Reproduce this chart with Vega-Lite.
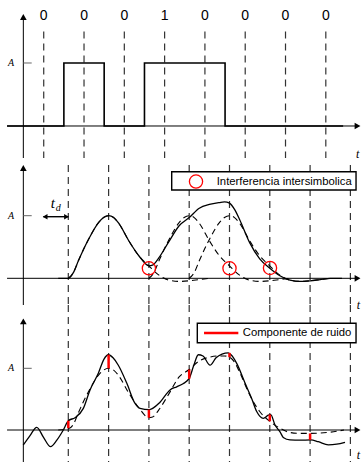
{
  "$schema": "https://vega.github.io/schema/vega-lite/v6.json",
  "padding": 0,
  "background": "white",
  "spacing": 0,
  "bounds": "flush",
  "config": {"view": {"stroke": null}},
  "resolve": {"scale": {"x": "independent", "y": "independent"}},
  "datasets": {
    "vlines": [
      {"panel": 1, "u": 0, "v": 1.5, "v2": -0.508}, {"panel": 1, "u": 1, "v": 1.5, "v2": -0.508},
      {"panel": 1, "u": 2, "v": 1.5, "v2": -0.508}, {"panel": 1, "u": 3, "v": 1.5, "v2": -0.508},
      {"panel": 1, "u": 4, "v": 1.5, "v2": -0.508}, {"panel": 1, "u": 5, "v": 1.5, "v2": -0.508},
      {"panel": 1, "u": 6, "v": 1.5, "v2": -0.508}, {"panel": 1, "u": 7, "v": 1.5, "v2": -0.508},
      {"panel": 2, "u": 0.61, "v": 1.81, "v2": -0.4265}, {"panel": 2, "u": 1.61, "v": 1.81, "v2": -0.4265},
      {"panel": 2, "u": 2.61, "v": 1.81, "v2": -0.4265}, {"panel": 2, "u": 3.61, "v": 1.81, "v2": -0.4265},
      {"panel": 2, "u": 4.61, "v": 1.81, "v2": -0.4265}, {"panel": 2, "u": 5.61, "v": 1.81, "v2": -0.4265},
      {"panel": 2, "u": 6.61, "v": 1.81, "v2": -0.4265}, {"panel": 2, "u": 7.61, "v": 1.81, "v2": -0.4265},
      {"panel": 3, "u": 0.61, "v": 2.026, "v2": -0.5186}, {"panel": 3, "u": 1.61, "v": 2.026, "v2": -0.5186},
      {"panel": 3, "u": 2.61, "v": 2.026, "v2": -0.5186}, {"panel": 3, "u": 3.61, "v": 2.026, "v2": -0.5186},
      {"panel": 3, "u": 4.61, "v": 2.026, "v2": -0.5186}, {"panel": 3, "u": 5.61, "v": 2.026, "v2": -0.5186},
      {"panel": 3, "u": 6.61, "v": 2.026, "v2": -0.5186}, {"panel": 3, "u": 7.61, "v": 2.026, "v2": -0.5186}
    ],
    "xaxis": [{"u": -0.91, "u2": 7.787, "v": 0}],
    "xarrow": [{"u": 7.787, "v": 0}],
    "yaxis": [
      {"panel": 1, "u": -0.506, "v": -0.508, "v2": 1.73},
      {"panel": 2, "u": -0.506, "v": -0.4265, "v2": 1.762},
      {"panel": 3, "u": -0.506, "v": -0.5186, "v2": 1.762}
    ],
    "yarrow": [
      {"panel": 1, "u": -0.506, "v": 1.73},
      {"panel": 2, "u": -0.506, "v": 1.762},
      {"panel": 3, "u": -0.506, "v": 1.762}
    ],
    "ytick": [{"u": -0.506, "u2": -0.298, "v": 1}],
    "alabel": [{"u": -0.811, "v": 1, "label": "A"}],
    "tlabel": [
      {"panel": 1, "u": 7.79, "v": -0.44, "label": "t"},
      {"panel": 2, "u": 7.81, "v": -0.42, "label": "t"},
      {"panel": 3, "u": 7.81, "v": -0.4, "label": "t"}
    ],
    "bits": [
      {"u": 0, "v": 1.74, "label": "0"}, {"u": 1, "v": 1.74, "label": "0"},
      {"u": 2, "v": 1.74, "label": "0"}, {"u": 3, "v": 1.74, "label": "1"},
      {"u": 4, "v": 1.74, "label": "0"}, {"u": 5, "v": 1.74, "label": "0"},
      {"u": 6, "v": 1.74, "label": "0"}, {"u": 7, "v": 1.74, "label": "0"}
    ],
    "signal": [
      {"u": -0.91, "v": 0}, {"u": 0.5, "v": 1}, {"u": 1.5, "v": 0},
      {"u": 2.5, "v": 1}, {"u": 4.5, "v": 0}, {"u": 7.43, "v": 0}
    ],
    "pulses": [
      {"pulse": "a", "u": 0.61, "v": 0}, {"pulse": "a", "u": 0.735, "v": 0.09}, {"pulse": "a", "u": 0.86, "v": 0.28},
      {"pulse": "a", "u": 1.11, "v": 0.62}, {"pulse": "a", "u": 1.36, "v": 0.89}, {"pulse": "a", "u": 1.485, "v": 0.97},
      {"pulse": "a", "u": 1.61, "v": 1}, {"pulse": "a", "u": 1.735, "v": 0.97}, {"pulse": "a", "u": 1.86, "v": 0.88},
      {"pulse": "a", "u": 2.11, "v": 0.6}, {"pulse": "a", "u": 2.36, "v": 0.36}, {"pulse": "a", "u": 2.61, "v": 0.2},
      {"pulse": "a", "u": 2.86, "v": 0.05}, {"pulse": "a", "u": 3.11, "v": -0.03}, {"pulse": "a", "u": 3.36, "v": -0.05},
      {"pulse": "a", "u": 3.61, "v": -0.04}, {"pulse": "a", "u": 3.86, "v": -0.02}, {"pulse": "a", "u": 4.11, "v": 0},
      {"pulse": "b", "u": 2.61, "v": 0}, {"pulse": "b", "u": 2.735, "v": 0.09}, {"pulse": "b", "u": 2.86, "v": 0.28},
      {"pulse": "b", "u": 3.11, "v": 0.62}, {"pulse": "b", "u": 3.36, "v": 0.89}, {"pulse": "b", "u": 3.485, "v": 0.97},
      {"pulse": "b", "u": 3.61, "v": 1}, {"pulse": "b", "u": 3.735, "v": 0.97}, {"pulse": "b", "u": 3.86, "v": 0.88},
      {"pulse": "b", "u": 4.11, "v": 0.6}, {"pulse": "b", "u": 4.36, "v": 0.36}, {"pulse": "b", "u": 4.61, "v": 0.2},
      {"pulse": "b", "u": 4.86, "v": 0.05}, {"pulse": "b", "u": 5.11, "v": -0.03}, {"pulse": "b", "u": 5.36, "v": -0.05},
      {"pulse": "b", "u": 5.61, "v": -0.04}, {"pulse": "b", "u": 5.86, "v": -0.02}, {"pulse": "b", "u": 6.11, "v": 0},
      {"pulse": "c", "u": 3.61, "v": 0}, {"pulse": "c", "u": 3.735, "v": 0.09}, {"pulse": "c", "u": 3.86, "v": 0.28},
      {"pulse": "c", "u": 4.11, "v": 0.62}, {"pulse": "c", "u": 4.36, "v": 0.89}, {"pulse": "c", "u": 4.485, "v": 0.97},
      {"pulse": "c", "u": 4.61, "v": 1}, {"pulse": "c", "u": 4.735, "v": 0.97}, {"pulse": "c", "u": 4.86, "v": 0.88},
      {"pulse": "c", "u": 5.11, "v": 0.6}, {"pulse": "c", "u": 5.36, "v": 0.36}, {"pulse": "c", "u": 5.61, "v": 0.2},
      {"pulse": "c", "u": 5.86, "v": 0.05}, {"pulse": "c", "u": 6.11, "v": -0.03}, {"pulse": "c", "u": 6.36, "v": -0.05},
      {"pulse": "c", "u": 6.61, "v": -0.04}, {"pulse": "c", "u": 6.86, "v": -0.02}, {"pulse": "c", "u": 7.11, "v": 0}
    ],
    "isi2": [
      {"u": 0.36, "v": 0}, {"u": 0.61, "v": 0}, {"u": 0.735, "v": 0.09}, {"u": 0.86, "v": 0.28},
      {"u": 1.11, "v": 0.62}, {"u": 1.36, "v": 0.89}, {"u": 1.485, "v": 0.97}, {"u": 1.61, "v": 1},
      {"u": 1.735, "v": 0.97}, {"u": 1.86, "v": 0.88}, {"u": 2.11, "v": 0.6}, {"u": 2.36, "v": 0.36},
      {"u": 2.61, "v": 0.2}, {"u": 2.7, "v": 0.21}, {"u": 2.86, "v": 0.33}, {"u": 3.11, "v": 0.59},
      {"u": 3.36, "v": 0.84}, {"u": 3.61, "v": 0.97}, {"u": 3.86, "v": 1.12}, {"u": 4.11, "v": 1.18},
      {"u": 4.36, "v": 1.21}, {"u": 4.485, "v": 1.22}, {"u": 4.61, "v": 1.2}, {"u": 4.735, "v": 1.1},
      {"u": 4.86, "v": 0.94}, {"u": 5.11, "v": 0.57}, {"u": 5.36, "v": 0.31}, {"u": 5.61, "v": 0.16},
      {"u": 5.86, "v": 0.04}, {"u": 6.11, "v": -0.03}, {"u": 6.36, "v": -0.05}, {"u": 6.61, "v": -0.04},
      {"u": 6.86, "v": -0.02}, {"u": 7.11, "v": 0}, {"u": 7.4, "v": 0}
    ],
    "circles": [{"u": 2.61, "v": 0.16}, {"u": 4.61, "v": 0.16}, {"u": 5.615, "v": 0.165}],
    "isi3": [
      {"u": 0.36, "v": 0}, {"u": 0.61, "v": 0.02}, {"u": 0.735, "v": 0.09}, {"u": 0.86, "v": 0.28},
      {"u": 1.11, "v": 0.62}, {"u": 1.36, "v": 0.89}, {"u": 1.485, "v": 0.97}, {"u": 1.61, "v": 1},
      {"u": 1.735, "v": 0.97}, {"u": 1.86, "v": 0.88}, {"u": 2.11, "v": 0.6}, {"u": 2.36, "v": 0.36},
      {"u": 2.61, "v": 0.2}, {"u": 2.7, "v": 0.21}, {"u": 2.86, "v": 0.33}, {"u": 3.11, "v": 0.59},
      {"u": 3.36, "v": 0.86}, {"u": 3.61, "v": 0.98}, {"u": 3.86, "v": 1.12}, {"u": 4.11, "v": 1.18},
      {"u": 4.36, "v": 1.2}, {"u": 4.485, "v": 1.2}, {"u": 4.61, "v": 1.18}, {"u": 4.735, "v": 1.1},
      {"u": 4.86, "v": 0.94}, {"u": 5.11, "v": 0.57}, {"u": 5.36, "v": 0.3}, {"u": 5.61, "v": 0.14},
      {"u": 5.86, "v": 0.03}, {"u": 6.11, "v": -0.04}, {"u": 6.36, "v": -0.055}, {"u": 6.61, "v": -0.055},
      {"u": 6.86, "v": -0.05}, {"u": 7.11, "v": -0.035}, {"u": 7.45, "v": 0}
    ],
    "noisy": [
      {"u": -0.506, "v": -0.243}, {"u": -0.34, "v": -0.09}, {"u": -0.174, "v": 0.044}, {"u": -0.005, "v": -0.12},
      {"u": 0.169, "v": -0.27}, {"u": 0.33, "v": -0.16}, {"u": 0.486, "v": 0}, {"u": 0.61, "v": 0.15},
      {"u": 0.777, "v": 0.2}, {"u": 0.983, "v": 0.35}, {"u": 1.149, "v": 0.65}, {"u": 1.355, "v": 0.92},
      {"u": 1.496, "v": 1.15}, {"u": 1.603, "v": 1.22}, {"u": 1.72, "v": 1.17}, {"u": 1.851, "v": 1.05},
      {"u": 2.06, "v": 0.76}, {"u": 2.266, "v": 0.43}, {"u": 2.39, "v": 0.35}, {"u": 2.62, "v": 0.33},
      {"u": 2.886, "v": 0.45}, {"u": 3.134, "v": 0.65}, {"u": 3.3, "v": 0.7}, {"u": 3.457, "v": 0.75},
      {"u": 3.613, "v": 0.84}, {"u": 3.72, "v": 1.04}, {"u": 3.836, "v": 1.22}, {"u": 3.953, "v": 1.2},
      {"u": 4.127, "v": 1.05}, {"u": 4.276, "v": 1.17}, {"u": 4.424, "v": 1.23}, {"u": 4.58, "v": 1.25},
      {"u": 4.648, "v": 1.22}, {"u": 4.789, "v": 1.08}, {"u": 4.995, "v": 0.76}, {"u": 5.16, "v": 0.51},
      {"u": 5.285, "v": 0.3}, {"u": 5.449, "v": 0.19}, {"u": 5.573, "v": 0.24}, {"u": 5.633, "v": 0.25},
      {"u": 5.74, "v": 0.08}, {"u": 5.864, "v": -0.03}, {"u": 5.945, "v": -0.12}, {"u": 6.112, "v": -0.16},
      {"u": 6.36, "v": -0.165}, {"u": 6.625, "v": -0.16}, {"u": 6.814, "v": -0.19}, {"u": 7.062, "v": -0.24},
      {"u": 7.27, "v": -0.23}, {"u": 7.476, "v": -0.2}
    ],
    "noise": [
      {"u": 0.61, "v": 0.03, "v2": 0.15}, {"u": 1.61, "v": 1.0, "v2": 1.22}, {"u": 2.61, "v": 0.2, "v2": 0.33},
      {"u": 3.61, "v": 0.98, "v2": 0.83}, {"u": 4.61, "v": 1.18, "v2": 1.25}, {"u": 5.61, "v": 0.14, "v2": 0.25},
      {"u": 6.61, "v": -0.055, "v2": -0.16}
    ],
    "legbox": [
      {"panel": 2, "u": 3.176, "u2": 7.75, "v": 1.703, "v2": 1.411},
      {"panel": 3, "u": 3.811, "u2": 7.75, "v": 1.729, "v2": 1.415}
    ],
    "legtext": [
      {"panel": 2, "u": 4.293, "v": 1.546, "label": "Interferencia intersimbolica"},
      {"panel": 3, "u": 4.938, "v": 1.572, "label": "Componente de ruido"}
    ],
    "legcircle": [{"u": 3.779, "v": 1.546}],
    "legline": [{"u": 3.978, "u2": 4.829, "v": 1.572}],
    "tdrule": [{"u": -0.01, "u2": 0.61, "v": 0.984}],
    "tdleft": [{"u": 0.035, "v": 0.984}],
    "tdright": [{"u": 0.565, "v": 0.984}],
    "tdt": [{"u": 0.226, "v": 1.2, "label": "t"}],
    "tdd": [{"u": 0.36, "v": 1.125, "label": "d"}]
  },
  "vconcat": [
    {
      "width": 362, "height": 158,
      "encoding": {
        "x": {"field": "u", "type": "quantitative", "scale": {"domain": [-1.085, 7.898], "nice": false, "zero": false}, "axis": null},
        "y": {"field": "v", "type": "quantitative", "scale": {"domain": [-0.508, 2.0], "nice": false, "zero": false}, "axis": null}
      },
      "layer": [
        {"data": {"name": "vlines"}, "transform": [{"filter": "datum.panel == 1"}],
         "mark": {"type": "rule", "color": "#333333", "strokeWidth": 1.2, "strokeDash": [7, 5]},
         "encoding": {"y2": {"field": "v2"}}},
        {"data": {"name": "xaxis"}, "mark": {"type": "rule", "color": "#000000", "strokeWidth": 1},
         "encoding": {"x2": {"field": "u2"}}},
        {"data": {"name": "yaxis"}, "transform": [{"filter": "datum.panel == 1"}],
         "mark": {"type": "rule", "color": "#000000", "strokeWidth": 1},
         "encoding": {"y2": {"field": "v2"}}},
        {"data": {"name": "xarrow"}, "mark": {"type": "point", "shape": "triangle-right", "filled": true, "color": "#000000", "size": 45, "opacity": 1}},
        {"data": {"name": "yarrow"}, "transform": [{"filter": "datum.panel == 1"}],
         "mark": {"type": "point", "shape": "triangle-up", "filled": true, "color": "#000000", "size": 45, "opacity": 1}},
        {"data": {"name": "ytick"}, "mark": {"type": "rule", "color": "#666666", "strokeWidth": 1},
         "encoding": {"x2": {"field": "u2"}}},
        {"data": {"name": "alabel"}, "mark": {"type": "text", "font": "Liberation Serif", "fontStyle": "italic", "fontSize": 10, "align": "center", "baseline": "middle", "color": "#000000"},
         "encoding": {"text": {"field": "label"}}},
        {"data": {"name": "tlabel"}, "transform": [{"filter": "datum.panel == 1"}],
         "mark": {"type": "text", "font": "Liberation Serif", "fontStyle": "italic", "fontSize": 12, "align": "center", "baseline": "middle", "color": "#000000"},
         "encoding": {"text": {"field": "label"}}},
        {"data": {"name": "bits"}, "mark": {"type": "text", "font": "Liberation Sans", "fontSize": 14, "align": "center", "baseline": "middle", "color": "#000000"},
         "encoding": {"text": {"field": "label"}}},
        {"data": {"name": "signal"}, "mark": {"type": "line", "interpolate": "step-after", "color": "#000000", "strokeWidth": 1.6}}
      ]
    },
    {
      "width": 362, "height": 147,
      "encoding": {
        "x": {"field": "u", "type": "quantitative", "scale": {"domain": [-1.085, 7.898], "nice": false, "zero": false}, "axis": null},
        "y": {"field": "v", "type": "quantitative", "scale": {"domain": [-0.4265, 1.9217], "nice": false, "zero": false}, "axis": null}
      },
      "layer": [
        {"data": {"name": "vlines"}, "transform": [{"filter": "datum.panel == 2"}],
         "mark": {"type": "rule", "color": "#333333", "strokeWidth": 1.2, "strokeDash": [7, 5]},
         "encoding": {"y2": {"field": "v2"}}},
        {"data": {"name": "xaxis"}, "mark": {"type": "rule", "color": "#000000", "strokeWidth": 1},
         "encoding": {"x2": {"field": "u2"}}},
        {"data": {"name": "yaxis"}, "transform": [{"filter": "datum.panel == 2"}],
         "mark": {"type": "rule", "color": "#000000", "strokeWidth": 1},
         "encoding": {"y2": {"field": "v2"}}},
        {"data": {"name": "xarrow"}, "mark": {"type": "point", "shape": "triangle-right", "filled": true, "color": "#000000", "size": 45, "opacity": 1}},
        {"data": {"name": "yarrow"}, "transform": [{"filter": "datum.panel == 2"}],
         "mark": {"type": "point", "shape": "triangle-up", "filled": true, "color": "#000000", "size": 45, "opacity": 1}},
        {"data": {"name": "ytick"}, "mark": {"type": "rule", "color": "#666666", "strokeWidth": 1},
         "encoding": {"x2": {"field": "u2"}}},
        {"data": {"name": "alabel"}, "mark": {"type": "text", "font": "Liberation Serif", "fontStyle": "italic", "fontSize": 10, "align": "center", "baseline": "middle", "color": "#000000"},
         "encoding": {"text": {"field": "label"}}},
        {"data": {"name": "tlabel"}, "transform": [{"filter": "datum.panel == 2"}],
         "mark": {"type": "text", "font": "Liberation Serif", "fontStyle": "italic", "fontSize": 12, "align": "center", "baseline": "middle", "color": "#000000"},
         "encoding": {"text": {"field": "label"}}},
        {"data": {"name": "pulses"}, "mark": {"type": "line", "interpolate": "monotone", "color": "#000000", "strokeWidth": 1.1, "strokeDash": [6, 4]},
         "encoding": {"detail": {"field": "pulse", "type": "nominal"}}},
        {"data": {"name": "isi2"}, "mark": {"type": "line", "interpolate": "monotone", "color": "#000000", "strokeWidth": 1.3}},
        {"data": {"name": "circles"}, "mark": {"type": "point", "shape": "circle", "filled": false, "color": "#ff0000", "strokeWidth": 1.3, "size": 175, "opacity": 1}},
        {"data": {"name": "legbox"}, "transform": [{"filter": "datum.panel == 2"}],
         "mark": {"type": "rect", "fill": "#ffffff", "stroke": "#000000", "strokeWidth": 1.4},
         "encoding": {"x2": {"field": "u2"}, "y2": {"field": "v2"}}},
        {"data": {"name": "legcircle"}, "mark": {"type": "point", "shape": "circle", "filled": false, "color": "#ff0000", "strokeWidth": 1.3, "size": 175, "opacity": 1}},
        {"data": {"name": "legtext"}, "transform": [{"filter": "datum.panel == 2"}],
         "mark": {"type": "text", "font": "Liberation Sans", "fontSize": 11.3, "align": "left", "baseline": "middle", "color": "#000000"},
         "encoding": {"text": {"field": "label"}}},
        {"data": {"name": "tdrule"}, "mark": {"type": "rule", "color": "#000000", "strokeWidth": 1.4},
         "encoding": {"x2": {"field": "u2"}}},
        {"data": {"name": "tdleft"}, "mark": {"type": "point", "shape": "triangle-left", "filled": true, "color": "#000000", "size": 30, "opacity": 1}},
        {"data": {"name": "tdright"}, "mark": {"type": "point", "shape": "triangle-right", "filled": true, "color": "#000000", "size": 30, "opacity": 1}},
        {"data": {"name": "tdt"}, "mark": {"type": "text", "font": "Liberation Serif", "fontStyle": "italic", "fontSize": 15, "align": "center", "baseline": "middle", "color": "#000000"},
         "encoding": {"text": {"field": "label"}}},
        {"data": {"name": "tdd"}, "mark": {"type": "text", "font": "Liberation Serif", "fontStyle": "italic", "fontSize": 10, "align": "center", "baseline": "middle", "color": "#000000"},
         "encoding": {"text": {"field": "label"}}}
      ]
    },
    {
      "width": 362, "height": 157,
      "encoding": {
        "x": {"field": "u", "type": "quantitative", "scale": {"domain": [-1.085, 7.898], "nice": false, "zero": false}, "axis": null},
        "y": {"field": "v", "type": "quantitative", "scale": {"domain": [-0.5186, 2.026], "nice": false, "zero": false}, "axis": null}
      },
      "layer": [
        {"data": {"name": "vlines"}, "transform": [{"filter": "datum.panel == 3"}],
         "mark": {"type": "rule", "color": "#333333", "strokeWidth": 1.2, "strokeDash": [7, 5]},
         "encoding": {"y2": {"field": "v2"}}},
        {"data": {"name": "xaxis"}, "mark": {"type": "rule", "color": "#000000", "strokeWidth": 1},
         "encoding": {"x2": {"field": "u2"}}},
        {"data": {"name": "yaxis"}, "transform": [{"filter": "datum.panel == 3"}],
         "mark": {"type": "rule", "color": "#000000", "strokeWidth": 1},
         "encoding": {"y2": {"field": "v2"}}},
        {"data": {"name": "xarrow"}, "mark": {"type": "point", "shape": "triangle-right", "filled": true, "color": "#000000", "size": 45, "opacity": 1}},
        {"data": {"name": "yarrow"}, "transform": [{"filter": "datum.panel == 3"}],
         "mark": {"type": "point", "shape": "triangle-up", "filled": true, "color": "#000000", "size": 45, "opacity": 1}},
        {"data": {"name": "ytick"}, "mark": {"type": "rule", "color": "#666666", "strokeWidth": 1},
         "encoding": {"x2": {"field": "u2"}}},
        {"data": {"name": "alabel"}, "mark": {"type": "text", "font": "Liberation Serif", "fontStyle": "italic", "fontSize": 10, "align": "center", "baseline": "middle", "color": "#000000"},
         "encoding": {"text": {"field": "label"}}},
        {"data": {"name": "tlabel"}, "transform": [{"filter": "datum.panel == 3"}],
         "mark": {"type": "text", "font": "Liberation Serif", "fontStyle": "italic", "fontSize": 12, "align": "center", "baseline": "middle", "color": "#000000"},
         "encoding": {"text": {"field": "label"}}},
        {"data": {"name": "isi3"}, "mark": {"type": "line", "interpolate": "monotone", "color": "#000000", "strokeWidth": 1.1, "strokeDash": [6, 4]}},
        {"data": {"name": "noisy"}, "mark": {"type": "line", "interpolate": "monotone", "color": "#000000", "strokeWidth": 1.3}},
        {"data": {"name": "noise"}, "mark": {"type": "rule", "color": "#ff0000", "strokeWidth": 2.5},
         "encoding": {"y2": {"field": "v2"}}},
        {"data": {"name": "legbox"}, "transform": [{"filter": "datum.panel == 3"}],
         "mark": {"type": "rect", "fill": "#ffffff", "stroke": "#000000", "strokeWidth": 1.4},
         "encoding": {"x2": {"field": "u2"}, "y2": {"field": "v2"}}},
        {"data": {"name": "legline"}, "mark": {"type": "rule", "color": "#ff0000", "strokeWidth": 2.5},
         "encoding": {"x2": {"field": "u2"}}},
        {"data": {"name": "legtext"}, "transform": [{"filter": "datum.panel == 3"}],
         "mark": {"type": "text", "font": "Liberation Sans", "fontSize": 11.3, "align": "left", "baseline": "middle", "color": "#000000"},
         "encoding": {"text": {"field": "label"}}}
      ]
    }
  ]
}
